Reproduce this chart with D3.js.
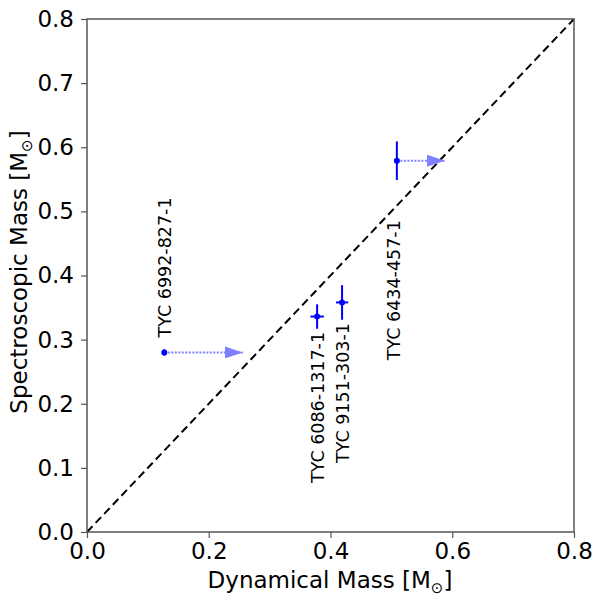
<!DOCTYPE html>
<html><head><meta charset="utf-8">
<script src="https://cdn.jsdelivr.net/npm/d3@7"></script>
<style>body{margin:0;background:#fff}svg{display:block}text{font-family:"DejaVu Sans",sans-serif}</style>
</head><body>
<script>
const names = ["TYC 6992-827-1","TYC 6086-1317-1","TYC 9151-303-1","TYC 6434-457-1"];
const dynMass = [0.127, 0.378, 0.419, 0.509];
const dynErr = [0.004, 0.011, 0.010, 0.0];
const specMass = [0.280, 0.336, 0.358, 0.579];
const specErr = [0.005, 0.019, 0.027, 0.030];
const arrowTo = [0.256, null, null, 0.588];
const labelX = [0.138, 0.389, 0.430, 0.514];
const labelY = [0.3035, 0.0764, 0.1076, 0.268];
const ticks = [0.0, 0.1, 0.2, 0.3, 0.4, 0.5, 0.6, 0.7, 0.8];
const xticks = [0.0, 0.2, 0.4, 0.6, 0.8];

const W = 594, H = 596;
const m = {l: 87, r: 20, t: 19, b: 64};
const svg = d3.select("body").append("svg").attr("width", W).attr("height", H);
const x = d3.scaleLinear().domain([0, 0.8]).range([m.l, W - m.r]);
const y = d3.scaleLinear().domain([0, 0.8]).range([H - m.b, m.t]);

const defs = svg.append("defs");
defs.append("marker").attr("id","ah").attr("viewBox","0 0 18 12").attr("refX",18).attr("refY",6)
  .attr("markerWidth",18).attr("markerHeight",12).attr("markerUnits","userSpaceOnUse").attr("orient","auto")
  .append("path").attr("d","M0,0 L18,6 L0,12 Z").attr("fill","#7f7fff");

// diagonal
svg.append("line").attr("x1", x(0)).attr("y1", y(0)).attr("x2", x(0.8)).attr("y2", y(0.8))
  .attr("stroke","#000").attr("stroke-width",2).attr("stroke-dasharray","8,4.5");

// arrows
dynMass.forEach((d,i) => {
  if (arrowTo[i] == null) return;
  svg.append("line").attr("x1", x(d)).attr("y1", y(specMass[i])).attr("x2", x(arrowTo[i])).attr("y2", y(specMass[i]))
    .attr("stroke","#7f7fff").attr("stroke-width",2).attr("stroke-dasharray","2,1.5").attr("marker-end","url(#ah)");
});

// error bars
const g = svg.append("g");
dynMass.forEach((d,i) => {
  g.append("line").attr("x1", x(d)).attr("x2", x(d)).attr("y1", y(specMass[i]-specErr[i])).attr("y2", y(specMass[i]+specErr[i]))
    .attr("stroke","#0000ff").attr("stroke-width",2);
  g.append("line").attr("x1", x(d-dynErr[i])).attr("x2", x(d+dynErr[i])).attr("y1", y(specMass[i])).attr("y2", y(specMass[i]))
    .attr("stroke","#0000ff").attr("stroke-width",2);
  g.append("circle").attr("cx", x(d)).attr("cy", y(specMass[i])).attr("r",3).attr("fill","#0000ff");
});

// labels
names.forEach((n,i) => {
  svg.append("text").attr("transform", `translate(${x(labelX[i])},${y(labelY[i])}) rotate(-90)`)
    .attr("font-size",17.5).attr("fill","#000").text(n);
});

// frame
const axColor = "#555";
svg.append("rect").attr("x", x(0)).attr("y", y(0.8)).attr("width", x(0.8)-x(0)).attr("height", y(0)-y(0.8))
  .attr("fill","none").attr("stroke",axColor).attr("stroke-width",1.5);

const xa = svg.append("g").attr("transform",`translate(0,${y(0)})`)
  .call(d3.axisBottom(x).tickValues(xticks).tickFormat(d3.format(".1f")).tickSize(6).tickPadding(5));
const ya = svg.append("g").attr("transform",`translate(${x(0)},0)`)
  .call(d3.axisLeft(y).tickValues(ticks).tickFormat(d3.format(".1f")).tickSize(6).tickPadding(7));
[xa, ya].forEach(a => {
  a.select(".domain").remove();
  a.selectAll(".tick line").attr("stroke", axColor).attr("stroke-width",1.2);
  a.selectAll(".tick text").attr("font-size",23).attr("font-family","DejaVu Sans").attr("fill","#000");
});

// axis titles
const xt = svg.append("text").attr("x", 330).attr("y", 588).attr("text-anchor","middle").attr("font-size",23);
xt.append("tspan").text("Dynamical Mass [M");
xt.append("tspan").attr("font-size",15).attr("dy",5).text("⊙");
xt.append("tspan").attr("dy",-5).text("]");

const yt = svg.append("text").attr("transform",`translate(27,272) rotate(-90)`).attr("text-anchor","middle").attr("font-size",23);
yt.append("tspan").text("Spectroscopic Mass [M");
yt.append("tspan").attr("font-size",15).attr("dy",5).text("⊙");
yt.append("tspan").attr("dy",-5).text("]");
</script>
</body></html>
